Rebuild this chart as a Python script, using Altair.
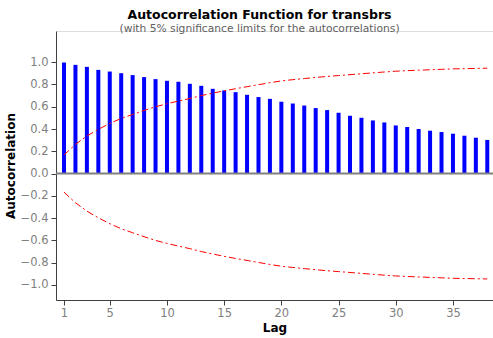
import altair as alt
import pandas as pd

lags = list(range(1, 39))
acf = [0.997, 0.976, 0.958, 0.931, 0.916, 0.901, 0.884, 0.866, 0.848, 0.833,
       0.824, 0.806, 0.788, 0.761, 0.746, 0.731, 0.707, 0.687, 0.671, 0.645,
       0.629, 0.611, 0.588, 0.570, 0.546, 0.519, 0.501, 0.477, 0.459, 0.432,
       0.418, 0.400, 0.385, 0.373, 0.358, 0.340, 0.322, 0.302]
limit = [0.167, 0.262, 0.337, 0.397, 0.450, 0.495, 0.531, 0.567, 0.600, 0.627,
         0.651, 0.674, 0.700, 0.722, 0.743, 0.762, 0.780, 0.798, 0.816, 0.832,
         0.843, 0.853, 0.863, 0.872, 0.880, 0.888, 0.896, 0.904, 0.912, 0.919,
         0.924, 0.928, 0.932, 0.936, 0.940, 0.942, 0.944, 0.946]
x_ticks = [1, 5, 10, 15, 20, 25, 30, 35]
y_ticks = [-1.0, -0.8, -0.6, -0.4, -0.2, 0.0, 0.2, 0.4, 0.6, 0.8, 1.0]

df = pd.DataFrame({"Lag": lags, "ACF": acf, "zero": [0.0] * len(lags),
                   "upper": limit, "lower": [-v for v in limit]})

FONT = "DejaVu Sans"
xs = alt.Scale(domain=[0.3, 38.5], nice=False, zero=False)
ys = alt.Scale(domain=[-1.135, 1.28], nice=False, zero=False)

x_axis = alt.Axis(values=x_ticks, title="Lag", labelPadding=2, titlePadding=4)
y_axis = alt.Axis(values=y_ticks, format=".1f", title="Autocorrelation",
                  labelPadding=3, titlePadding=3)

base = alt.Chart(df)

bars = base.mark_rule(color="#0000FF", strokeWidth=4, strokeCap="butt").encode(
    x=alt.X("Lag:Q", scale=xs, axis=x_axis),
    y=alt.Y("zero:Q", scale=ys, axis=y_axis),
    y2="ACF:Q",
)

zero_line = alt.Chart(pd.DataFrame({"z": [0.0]})).mark_rule(color="#808080", strokeWidth=2).encode(
    y=alt.Y("z:Q", scale=ys, axis=y_axis), x=alt.value(0), x2=alt.value(437))

dash = [7, 3, 2, 3]
up = base.mark_line(color="#FF0000", strokeWidth=1, strokeDash=dash).encode(
    x=alt.X("Lag:Q", scale=xs, axis=x_axis), y=alt.Y("upper:Q", scale=ys, axis=y_axis))
lo = base.mark_line(color="#FF0000", strokeWidth=1, strokeDash=dash).encode(
    x=alt.X("Lag:Q", scale=xs, axis=x_axis), y=alt.Y("lower:Q", scale=ys, axis=y_axis))

chart = alt.layer(bars, zero_line, up, lo).properties(
    width=437, height=269,
    autosize=alt.AutoSizeParams(type="none"),
    padding={"left": 56, "top": 31, "right": 0, "bottom": 38},
    title=alt.TitleParams(
        text="Autocorrelation Function for transbrs",
        subtitle="(with 5% significance limits for the autocorrelations)",
        font=FONT, fontSize=12.5, fontWeight="bold", color="black",
        subtitleFont=FONT, subtitleFontSize=10.7, subtitleColor="#606060",
        anchor="middle", dx=-15, offset=-3, subtitlePadding=3,
    ),
).configure_view(stroke="#404040", strokeWidth=1).configure(background="white").configure_axis(
    grid=False, labelColor="#808080", labelFontSize=11.5, labelFont=FONT, titleFont=FONT,
    titleFontSize=12, titleFontWeight="bold", titleColor="black", domainColor="#404040",
    tickColor="#404040", tickSize=5, labelOverlap=False, labelFlush=False,
)

chart.save("out.html", embed_options={"renderer": "svg", "actions": False})
